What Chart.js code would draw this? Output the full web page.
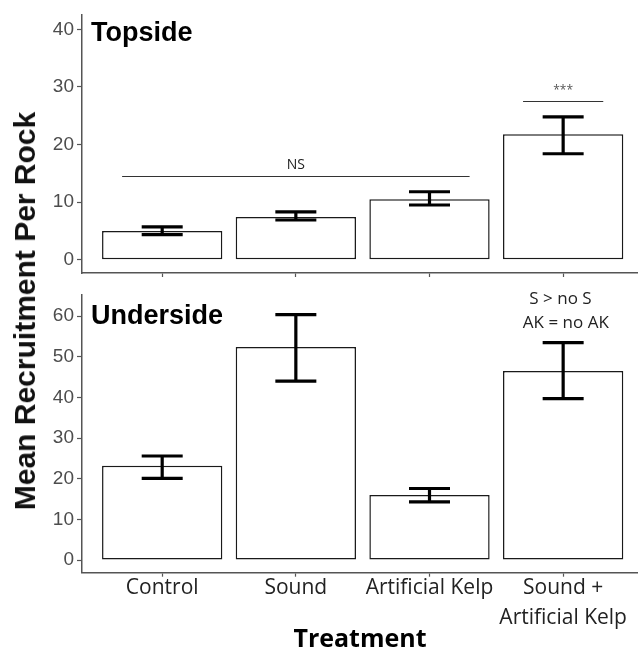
<!DOCTYPE html>
<html>
<head>
<meta charset="utf-8">
<script src="https://cdn.jsdelivr.net/npm/chart.js@4.4.1/dist/chart.umd.min.js"></script>
<style>
  body { margin: 0; background: #fff; width: 638px; height: 655px; overflow: hidden; position: relative; }
  canvas { position: absolute; left: 0; }
  #topChart { top: 0; }
  #bottomChart { top: 280px; }
  #yTitle {
    position: absolute; left: 25px; top: 311px;
    transform: translate(-50%, -50%) rotate(-90deg);
    font: bold 30px "Liberation Sans", Arial, sans-serif;
    white-space: nowrap; color: #111;
  }
</style>
</head>
<body>
<canvas id="topChart" width="638" height="290"></canvas>
<canvas id="bottomChart" width="638" height="375"></canvas>
<div id="yTitle">Mean Recruitment Per Rock</div>
<script>
// chart data
const categories = ['Control', 'Sound', 'Artificial Kelp', ['Sound +', 'Artificial Kelp']];

const topMeans = [5.0, 7.4, 10.5, 21.8];
const topUpper = [5.7, 8.3, 11.8, 24.8];
const topLower = [4.35, 6.9, 9.5, 18.4];
const topTicks = [0, 10, 20, 30, 40];

const bottomMeans = [23.2, 52.4, 16.0, 46.5];
const bottomUpper = [25.6, 60.4, 17.6, 53.5];
const bottomLower = [20.1, 44.0, 14.3, 39.7];
const bottomTicks = [0, 10, 20, 30, 40, 50, 60];

// significance notes (x in category units, y in data units)
const topNotes = [
    { line: [-0.3, 2.3], y: 14.6 },
    { text: 'NS', x: 1, y: 16.5, size: 14 },
    { line: [2.7, 3.3], y: 27.6 },
    { text: '***', x: 3, y: 29.3, size: 12, color: '#555' }
];
const bottomNotes = [
    { text: 'S > no S', x: 2.98, y: 64.1, size: 17 },
    { text: 'AK = no AK', x: 3.02, y: 58.2, size: 17 }
];

// Error bars + panel labels + notes
function panelPlugin(upper, lower, label, labelY, notes) {
    return {
        id: 'panelExtras',
        afterDatasetsDraw(chart) {
            const { ctx, chartArea, scales: { x, y } } = chart;
            ctx.save();

            // error bars
            ctx.strokeStyle = '#000';
            ctx.lineWidth = 3.2;
            upper.forEach((hi, i) => {
                const px = x.getPixelForValue(i);
                const yTop = y.getPixelForValue(hi);
                const yBot = y.getPixelForValue(lower[i]);
                ctx.beginPath();
                ctx.moveTo(px, yTop); ctx.lineTo(px, yBot);
                ctx.moveTo(px - 20.5, yTop); ctx.lineTo(px + 20.5, yTop);
                ctx.moveTo(px - 20.5, yBot); ctx.lineTo(px + 20.5, yBot);
                ctx.stroke();
            });

            // notes
            notes.forEach(n => {
                if (n.line) {
                    ctx.strokeStyle = '#333';
                    ctx.lineWidth = 1.2;
                    const py = Math.round(y.getPixelForValue(n.y)) + 0.5;
                    ctx.beginPath();
                    ctx.moveTo(x.getPixelForValue(n.line[0]), py);
                    ctx.lineTo(x.getPixelForValue(n.line[1]), py);
                    ctx.stroke();
                } else {
                    ctx.fillStyle = n.color || '#222';
                    ctx.font = n.size + 'px "Open Sans", sans-serif';
                    ctx.textAlign = 'center';
                    ctx.textBaseline = 'middle';
                    ctx.fillText(n.text, x.getPixelForValue(n.x), y.getPixelForValue(n.y));
                }
            });

            // panel label
            ctx.fillStyle = '#000';
            ctx.font = 'bold 27px "Liberation Sans", Arial, sans-serif';
            ctx.textAlign = 'left';
            ctx.textBaseline = 'alphabetic';
            ctx.fillText(label, chartArea.left + 9, chartArea.top + labelY);
            ctx.restore();
        }
    };
}

function makePanel(id, cfg) {
    const ctx = document.getElementById(id).getContext('2d');
    return new Chart(ctx, {
        type: 'bar',
        data: {
            datasets: [{
                data: cfg.means.map((v, i) => ({ x: i, y: v })),
                backgroundColor: '#fff',
                borderColor: '#1a1a1a',
                borderWidth: 1.5,
                borderSkipped: false,
                barPercentage: 0.9,
                categoryPercentage: 1
            }]
        },
        options: {
            responsive: false,
            animation: false,
            devicePixelRatio: 1,
            layout: { padding: { top: cfg.padTop, left: 0, right: 0, bottom: 0 } },
            plugins: { legend: { display: false }, tooltip: { enabled: false } },
            scales: {
                x: {
                    type: 'linear',
                    offset: false,
                    min: -0.6,
                    max: 3.56,
                    afterBuildTicks: s => { s.ticks = categories.map((c, i) => ({ value: i })); },
                    afterFit: s => { s.height = cfg.xHeight; },
                    ticks: {
                        display: cfg.showLabels,
                        callback: v => categories[v],
                        maxRotation: 0,
                        autoSkip: false,
                        color: '#222',
                        padding: -4,
                        font: { family: '"Open Sans", sans-serif', size: 21, lineHeight: 1.43 }
                    },
                    grid: { offset: false, drawOnChartArea: false, tickLength: 4, tickColor: '#555', tickWidth: 1.2 },
                    border: { display: true, color: '#555', width: 1.5 },
                    title: {
                        display: cfg.showLabels,
                        text: 'Treatment',
                        color: '#000',
                        padding: { top: 0, bottom: 0 },
                        font: { family: '"Open Sans", sans-serif', size: 25, weight: 'bold', lineHeight: 1.2 }
                    }
                },
                y: {
                    min: cfg.yMin,
                    max: cfg.yMax,
                    afterBuildTicks: s => { s.ticks = cfg.ticks.map(v => ({ value: v })); },
                    afterFit: s => { s.width = 82; },
                    ticks: {
                        color: '#4d4d4d',
                        padding: 3,
                        font: { family: '"Liberation Sans", Arial, sans-serif', size: 19 }
                    },
                    grid: { drawOnChartArea: false, tickLength: 5, tickColor: '#555', tickWidth: 1.2 },
                    border: { display: true, color: '#555', width: 1.5 }
                }
            }
        },
        plugins: [panelPlugin(cfg.upper, cfg.lower, cfg.label, cfg.labelY, cfg.notes)]
    });
}

makePanel('topChart', {
    means: topMeans, upper: topUpper, lower: topLower, ticks: topTicks,
    yMin: -2.3, yMax: 42.58, padTop: 10, xHeight: 17, showLabels: false,
    label: 'Topside', labelY: 27, notes: topNotes
});

makePanel('bottomChart', {
    means: bottomMeans, upper: bottomUpper, lower: bottomLower, ticks: bottomTicks,
    yMin: -3.12, yMax: 65.36, padTop: 14, xHeight: 82.3, showLabels: true,
    label: 'Underside', labelY: 30, notes: bottomNotes
});
</script>
</body>
</html>
